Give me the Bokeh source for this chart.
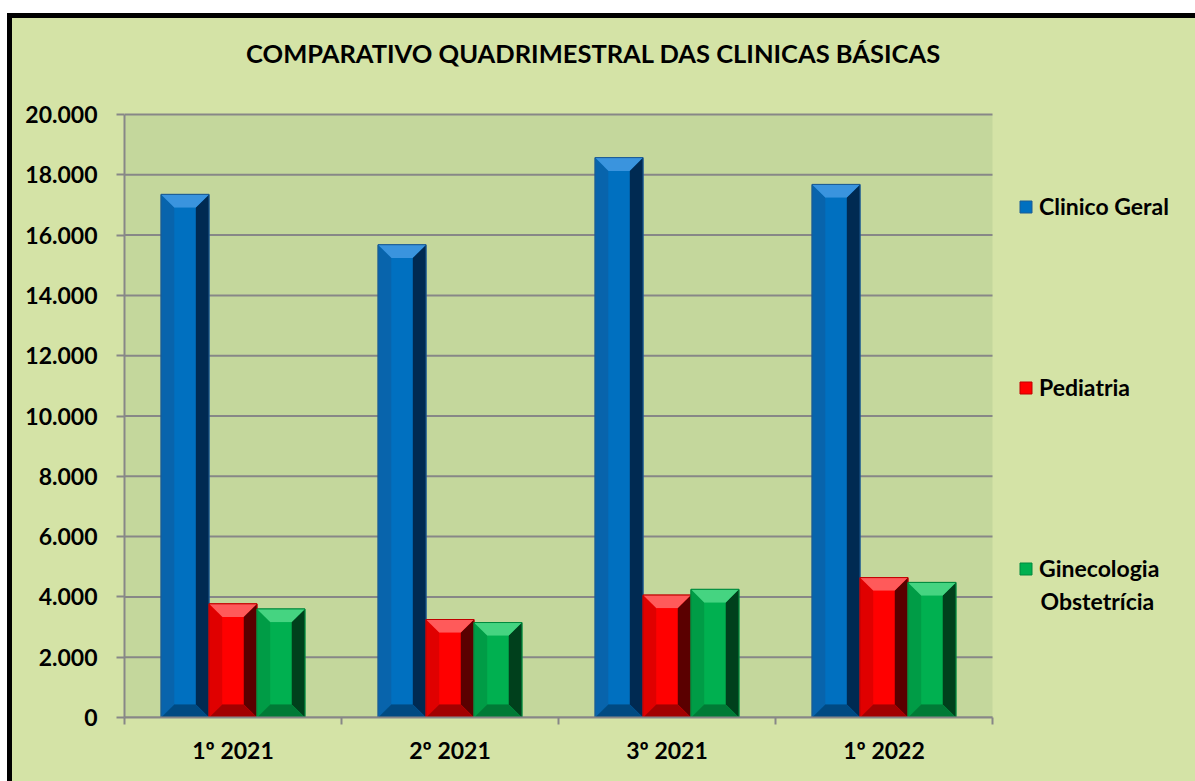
from bokeh.plotting import figure
from bokeh.models import Range1d, FixedTicker, Legend, LegendItem, Label
from bokeh.layouts import column
from bokeh.embed import file_html
from bokeh.resources import INLINE

# ---- data ----
title_text = "COMPARATIVO QUADRIMESTRAL DAS CLINICAS BÁSICAS"
categories = ["1º 2021", "2º 2021", "3º 2021", "1º 2022"]
series_names = ["Clinico Geral", "Pediatria", "Ginecologia"]
series_name_line2 = "Obstetrícia"
clinico_geral = [17350, 15680, 18570, 17680]
pediatria = [3770, 3250, 4060, 4640]
ginecologia = [3600, 3150, 4250, 4480]
y_ticks = [0, 2000, 4000, 6000, 8000, 10000, 12000, 14000, 16000, 18000, 20000]
y_tick_labels = ["0", "2.000", "4.000", "6.000", "8.000", "10.000", "12.000",
                 "14.000", "16.000", "18.000", "20.000"]
Y_MAX = 20000

# ---- style / layout ----
OUTER = "#d4e3a6"
INNER = "#c4d79c"
GRID = "#878787"
FONT = "Lato"
FIG_W, FIG_H = 1183, 763
LEFT_BORDER, BOTTOM_BORDER = 112, 64
PLOT_AREA_W, PLOT_AREA_H = 868, 603          # pixels of the inner plot area
frame_w = FIG_W - LEFT_BORDER
frame_h = FIG_H - BOTTOM_BORDER
x_end = len(categories) * frame_w / PLOT_AREA_W
y_end = Y_MAX * frame_h / PLOT_AREA_H

palettes = [
    dict(base="#0070c0", top="#3a94de", left="#0864ac", right="#002a52", bottom="#004a82", line="#1d5c94"),
    dict(base="#ff0000", top="#ff5a5a", left="#e00000", right="#5a0000", bottom="#a20000", line="#c00000"),
    dict(base="#00b050", top="#45d481", left="#009c46", right="#00401c", bottom="#007a36", line="#008a3e"),
]
offsets = [-0.221, 0.0, 0.221]
BAR_W = 0.221
BEV_X = 0.062
BEV_Y = 440

p = figure(width=FIG_W, height=FIG_H, x_range=Range1d(0, x_end),
           y_range=Range1d(0, y_end), output_backend="svg", toolbar_location=None,
           background_fill_color=None, border_fill_color=None,
           min_border_left=LEFT_BORDER, min_border_right=0, min_border_top=0,
           min_border_bottom=BOTTOM_BORDER, margin=(5, 0, 0, 5),
           styles={"background-color": OUTER})
p.outline_line_color = None
p.xgrid.grid_line_color = None
p.ygrid.grid_line_color = None

# inner plot area and grid lines
n = len(categories)
p.quad(left=[0], right=[n], bottom=[0], top=[Y_MAX], fill_color=INNER, line_color=None)
p.segment(x0=[0] * len(y_ticks), x1=[n] * len(y_ticks), y0=y_ticks, y1=y_ticks,
          line_color=GRID, line_width=2)

# y axis
p.yaxis.ticker = FixedTicker(ticks=y_ticks)
p.yaxis.bounds = (0, Y_MAX)
p.yaxis.major_label_overrides = {t: l for t, l in zip(y_ticks, y_tick_labels)}
p.yaxis.axis_line_color = GRID
p.yaxis.axis_line_width = 2
p.yaxis.major_tick_line_color = GRID
p.yaxis.major_tick_line_width = 2
p.yaxis.major_tick_out = 8
p.yaxis.major_tick_in = 0
p.yaxis.minor_tick_line_color = None
p.yaxis.major_label_standoff = 19
p.yaxis.major_label_text_font = FONT
p.yaxis.major_label_text_font_style = "bold"
p.yaxis.major_label_text_font_size = "23px"
p.yaxis.major_label_text_color = "black"

# x axis
centers = [i + 0.5 for i in range(n)]
bounds = [i for i in range(n + 1)]
p.xaxis.ticker = FixedTicker(ticks=centers, minor_ticks=bounds)
p.xaxis.bounds = (0, n)
p.xaxis.major_label_overrides = {c: nm for c, nm in zip(centers, categories)}
p.xaxis.axis_line_color = GRID
p.xaxis.axis_line_width = 2
p.xaxis.major_tick_line_color = None
p.xaxis.major_tick_out = 0
p.xaxis.minor_tick_line_color = GRID
p.xaxis.minor_tick_line_width = 2
p.xaxis.minor_tick_out = 7
p.xaxis.minor_tick_in = 0
p.xaxis.major_label_standoff = 11
p.xaxis.major_label_text_font = FONT
p.xaxis.major_label_text_font_style = "bold"
p.xaxis.major_label_text_font_size = "23px"
p.xaxis.major_label_text_color = "black"

legend_renderers = []
for values, off, pal in zip([clinico_geral, pediatria, ginecologia], offsets, palettes):
    xs = [c + off for c in centers]
    base = p.vbar(x=xs, top=values, bottom=0, width=BAR_W, fill_color=pal["base"],
                  line_color=pal["line"], line_width=1)
    legend_renderers.append(base)
    tops, rights, bottoms, lefts = ([], []), ([], []), ([], []), ([], [])
    fl, fr, ft, fb = [], [], [], []
    for x, v in zip(xs, values):
        l, r, t, b = x - BAR_W / 2, x + BAR_W / 2, v, 0
        il, ir, it, ib = l + BEV_X, r - BEV_X, t - BEV_Y, b + BEV_Y
        tops[0].append([l, r, ir, il]); tops[1].append([t, t, it, it])
        rights[0].append([r, r, ir, ir]); rights[1].append([t, b, ib, it])
        bottoms[0].append([l, r, ir, il]); bottoms[1].append([b, b, ib, ib])
        lefts[0].append([l, l, il, il]); lefts[1].append([t, b, ib, it])
        fl.append(il); fr.append(ir); ft.append(it); fb.append(ib)
    p.patches(xs=lefts[0], ys=lefts[1], fill_color=pal["left"], line_color=None)
    p.patches(xs=rights[0], ys=rights[1], fill_color=pal["right"], line_color=None)
    p.patches(xs=bottoms[0], ys=bottoms[1], fill_color=pal["bottom"], line_color=None)
    p.patches(xs=tops[0], ys=tops[1], fill_color=pal["top"], line_color=None)
    p.quad(left=fl, right=fr, top=ft, bottom=fb, fill_color=pal["base"], line_color=None)
    p.vbar(x=xs, top=values, bottom=0, width=BAR_W, fill_color=None,
           line_color=pal["line"], line_width=1)

leg = Legend(items=[LegendItem(label=nm, renderers=[r]) for nm, r in zip(series_names, legend_renderers)],
             location=(894, 135), background_fill_alpha=0, border_line_alpha=0,
             padding=0, margin=0, glyph_width=15, glyph_height=15, label_standoff=6,
             label_height=24, label_text_font=FONT, label_text_font_style="bold",
             label_text_font_size="23px", label_text_color="black", spacing=153)
p.add_layout(leg)

p.add_layout(Label(x=916, y=117, x_units="screen", y_units="screen", text=series_name_line2,
                   text_font=FONT, text_font_style="bold", text_font_size="23px",
                   text_color="black", text_baseline="middle", text_align="left"))
p.add_layout(Label(x=469, y=665, x_units="screen", y_units="screen", text=title_text,
                   text_font=FONT, text_font_style="bold", text_font_size="25.5px",
                   text_color="black", text_baseline="middle", text_align="center"))

layout = column(p, styles={"background-color": "black"}, margin=(13, 0, 0, 7))

open("out.html", "w").write(file_html(layout, INLINE))
